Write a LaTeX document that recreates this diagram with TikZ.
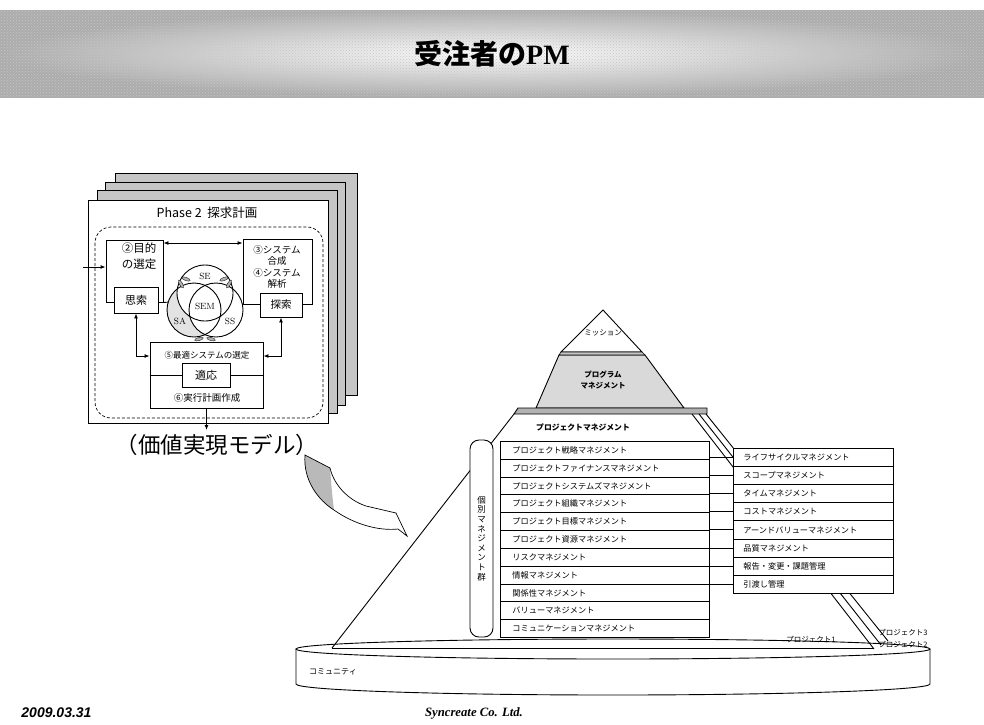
\documentclass[tikz,border=0pt]{standalone}
\usepackage{fontspec}
\newfontfamily\cjk{Noto Sans CJK JP}
\newfontfamily\arialf{Liberation Sans}
\newfontfamily\timesf{Liberation Serif}
\usetikzlibrary{arrows.meta,shadings,patterns}
\begin{document}
\begin{tikzpicture}[x=1pt,y=-1pt,line width=0.9pt,
  box/.style={draw,fill=white,inner sep=0pt},
  arr/.style={-{Latex[length=5pt,width=4pt]}},
  darr/.style={{Latex[length=5pt,width=4pt]}-{Latex[length=5pt,width=4pt]}},
  jp/.style={font=\cjk\fontsize{#1}{#1}\selectfont,inner sep=0pt},
  lrow/.style={draw,fill=white,anchor=north west,minimum width=209pt,minimum height=17.82pt,
    text width=185pt,inner xsep=12pt,inner ysep=0pt,align=left,font=\cjk\fontsize{8.2}{9}\selectfont},
  rrow/.style={draw,fill=white,anchor=north west,minimum width=160pt,minimum height=18.1pt,
    text width=140pt,inner xsep=10pt,inner ysep=0pt,align=left,font=\cjk\fontsize{8.2}{9}\selectfont},
  page/.style={draw,fill=gray!45,anchor=north west,inner sep=0pt},
  leaf/.style={fill=gray!60,draw=black,line width=0.3pt},
  venn/.style={font=\rmfamily\fontsize{9}{10}\selectfont,inner sep=0pt}
]
\useasboundingbox (0,0) rectangle (984,724);
\fill[white] (0,0) rectangle (984,724);

% ---------- banner ----------
\fill[gray!65] (0,10) rectangle (984,97);
\shade[shading=radial,inner color=white,outer color=gray!65] (0,10) rectangle (984,97);
\fill[pattern=crosshatch dots,pattern color=gray!45] (0,10) rectangle (984,97);
\node (title) at (492,54) {\cjk\bfseries\fontsize{28}{30}\selectfont 受注者の{\timesf\bfseries PM}};

% ---------- left model ----------
\node[page,minimum width=242pt,minimum height=222pt] (p3) at (115,173) {};
\node[page,minimum width=240pt,minimum height=223pt] (p2) at (105,182) {};
\node[page,minimum width=240pt,minimum height=223pt] (p1) at (97,190) {};
\node[page,fill=white,minimum width=240pt,minimum height=223pt] (front) at (88,200) {};
\node[jp=12.5] (phase) at (207,213) {Phase 2\ \ 探求計画};
\draw[dash pattern=on 3pt off 2pt,rounded corners=16pt,line width=0.7pt] (95,227) rectangle (323,418);

% goal box
\node[box,minimum width=57pt,minimum height=62pt] (goal) at (134.5,271) {};
\node[align=center,inner sep=0pt,font=\cjk\fontsize{11.5}{16}\selectfont] (goalt) at (139,256) {②目的\\の選定};
\coordinate (saleft) at (170,302);
\draw (goal.south east) -- (saleft);
\node[box,minimum width=44pt,minimum height=26pt,jp=11] (shisaku) at (136,300) {思索};

% synthesis box
\node[box,minimum width=69pt,minimum height=65pt] (synth) at (277.5,271.5) {};
\node[align=center,inner sep=0pt,font=\cjk\fontsize{9.5}{11.3}\selectfont] (syntht) at (277,267) {③システム\\合成\\④システム\\解析};
\coordinate (ssright) at (236,304);
\draw (synth.south west) -- (ssright);
\node[box,minimum width=42pt,minimum height=24pt,jp=10.5] (tansaku) at (281,305) {探索};

\draw[darr] (goal.north east |- 0,243) -- (synth.north west |- 0,243);

% venn
\fill[gray!22] (194,310) circle[radius=27pt];
\fill[white] (205,293) circle[radius=28pt];
\fill[white] (216,310) circle[radius=27pt];
\draw (205,293) circle[radius=28pt];
\draw (194,310) circle[radius=27pt];
\draw (216,310) circle[radius=27pt];
\node[venn] (se) at (205,276) {SE};
\node[venn] (sem) at (205,306) {SEM};
\node[venn] (sa) at (180,321) {SA};
\node[venn] (ss) at (230,321) {SS};
\draw[leaf,rotate around={-60:(181,284)}] (181,284) ellipse[x radius=4.5pt,y radius=1.6pt];
\draw[leaf,rotate around={-20:(186,279)}] (186,279) ellipse[x radius=4.5pt,y radius=1.6pt];
\draw[leaf,rotate around={60:(229,284)}] (229,284) ellipse[x radius=4.5pt,y radius=1.6pt];
\draw[leaf,rotate around={20:(224,279)}] (224,279) ellipse[x radius=4.5pt,y radius=1.6pt];
\draw[leaf,rotate around={15:(199,339)}] (199,339) ellipse[x radius=4.5pt,y radius=1.6pt];
\draw[leaf,rotate around={-15:(211,339)}] (211,339) ellipse[x radius=4.5pt,y radius=1.6pt];

% optimum box
\node[box,minimum width=113pt,minimum height=66pt] (opt) at (206.5,375) {};
\node[jp=8.5] (optt) at (207,355) {⑤最適システムの選定};
\draw (opt.west) -- (opt.east);
\node[box,minimum width=48pt,minimum height=24pt,jp=11] (teki) at (206,375) {適応};
\node[jp=9.5] (plan) at (207,398) {⑥実行計画作成};

\draw[darr] (shisaku.south) |- (opt.west |- 0,356);
\draw[darr] (tansaku.south) |- (opt.east |- 0,356);
\coordinate (entry) at (83,267);
\draw[arr] (entry) -- (goal.west |- entry);
\coordinate (exit) at (206.5,430);
\draw[arr] (opt.south) -- (exit);

\node[inner sep=0pt] (vm) at (217,445) {\cjk\fontsize{22.5}{24}\selectfont （価値実現モデル）};

% curved arrow
\fill[gray!55] (305,455) .. controls (303,480) and (318,500) .. (334,510) .. controls (332,495) and (331,480) .. (330,468) -- cycle;
\draw[line width=0.7pt] (305,455) .. controls (303,480) and (318,500) .. (334,510) .. controls (355,525) and (380,531) .. (398,529) -- (407,536) -- (396,513) -- (366,506) .. controls (348,500) and (334,485) .. (330,468) -- cycle;

% ---------- community disk ----------
\draw (296,649) -- (296,684) arc[start angle=180,end angle=360,x radius=317pt,y radius=11pt] -- (930,649);
\draw (613,649) ellipse[x radius=317pt,y radius=10pt];
\node[jp=8] (comm) at (333,672) {コミュニティ};

% ---------- pyramid ----------
\draw[fill=white] (603,310) -- (642,352) -- (561,352) -- cycle;
\draw[fill=gray!30] (559,355) -- (645,355) -- (684,408) -- (536,408) -- cycle;
\draw[fill=gray!45,line width=0.6pt] (561,352) -- (642,352) -- (645,355) -- (559,355) -- cycle;
\draw[fill=gray!60] (518,408) -- (707,408) -- (707,414) -- (514,414) -- cycle;
\node[jp=7.5] (mission) at (603,333) {ミッション};
\node[align=center,inner sep=0pt,font=\cjk\bfseries\fontsize{7.5}{10.5}\selectfont] (prog) at (603,380) {プログラム\\マネジメント};

\draw (514,414) -- (332,648);
\draw (332,648) -- (874,648);
\draw (692,414) -- (874,649);
\draw (699,414) -- (881,645);
\draw (706,414) -- (888,641);

\node[inner sep=0pt,font=\cjk\bfseries\fontsize{7.8}{9}\selectfont] (pm) at (583,427) {プロジェクトマネジメント};

\node[draw,fill=white,rounded corners=9pt,minimum width=23pt,minimum height=197pt,inner sep=0pt] (indiv) at (481.5,538.5) {};
\node[align=center,inner sep=0pt,font=\cjk\fontsize{8.5}{9.6}\selectfont] (indivt) at (481.5,538.5) {個\\別\\マ\\ネ\\ジ\\メ\\ン\\ト\\群};

\foreach \t [count=\i] in {プロジェクト戦略マネジメント,プロジェクトファイナンスマネジメント,プロジェクトシステムズマネジメント,プロジェクト組織マネジメント,プロジェクト目標マネジメント,プロジェクト資源マネジメント,リスクマネジメント,情報マネジメント,関係性マネジメント,バリューマネジメント,コミュニケーションマネジメント}
  {\node[lrow] (L\i) at (500,{441+(\i-1)*17.82}) {\t};}

\foreach \t [count=\i] in {ライフサイクルマネジメント,スコープマネジメント,タイムマネジメント,コストマネジメント,アーンドバリューマネジメント,品質マネジメント,報告・変更・課題管理,引渡し管理}
  {\node[rrow] (R\i) at (733,{448+(\i-1)*18.1}) {\t};}

\foreach \j in {1,...,8} {\draw (R\j.west) -- (R\j.west -| L1.east);}

\node[jp=7.5] (proj1) at (811,640) {プロジェクト1};
\node[jp=7.5] (proj3) at (903,633) {プロジェクト3};
\node[jp=7.5] (proj2) at (903,645) {プロジェクト2};

% ---------- footer ----------
\node[anchor=west,inner sep=0pt] (date) at (21,713) {\arialf\bfseries\itshape\fontsize{14}{16}\selectfont 2009.03.31};
\node[inner sep=0pt] (corp) at (474,713) {\timesf\bfseries\itshape\fontsize{12.7}{14}\selectfont Syncreate Co. Ltd.};
\end{tikzpicture}
\end{document}
